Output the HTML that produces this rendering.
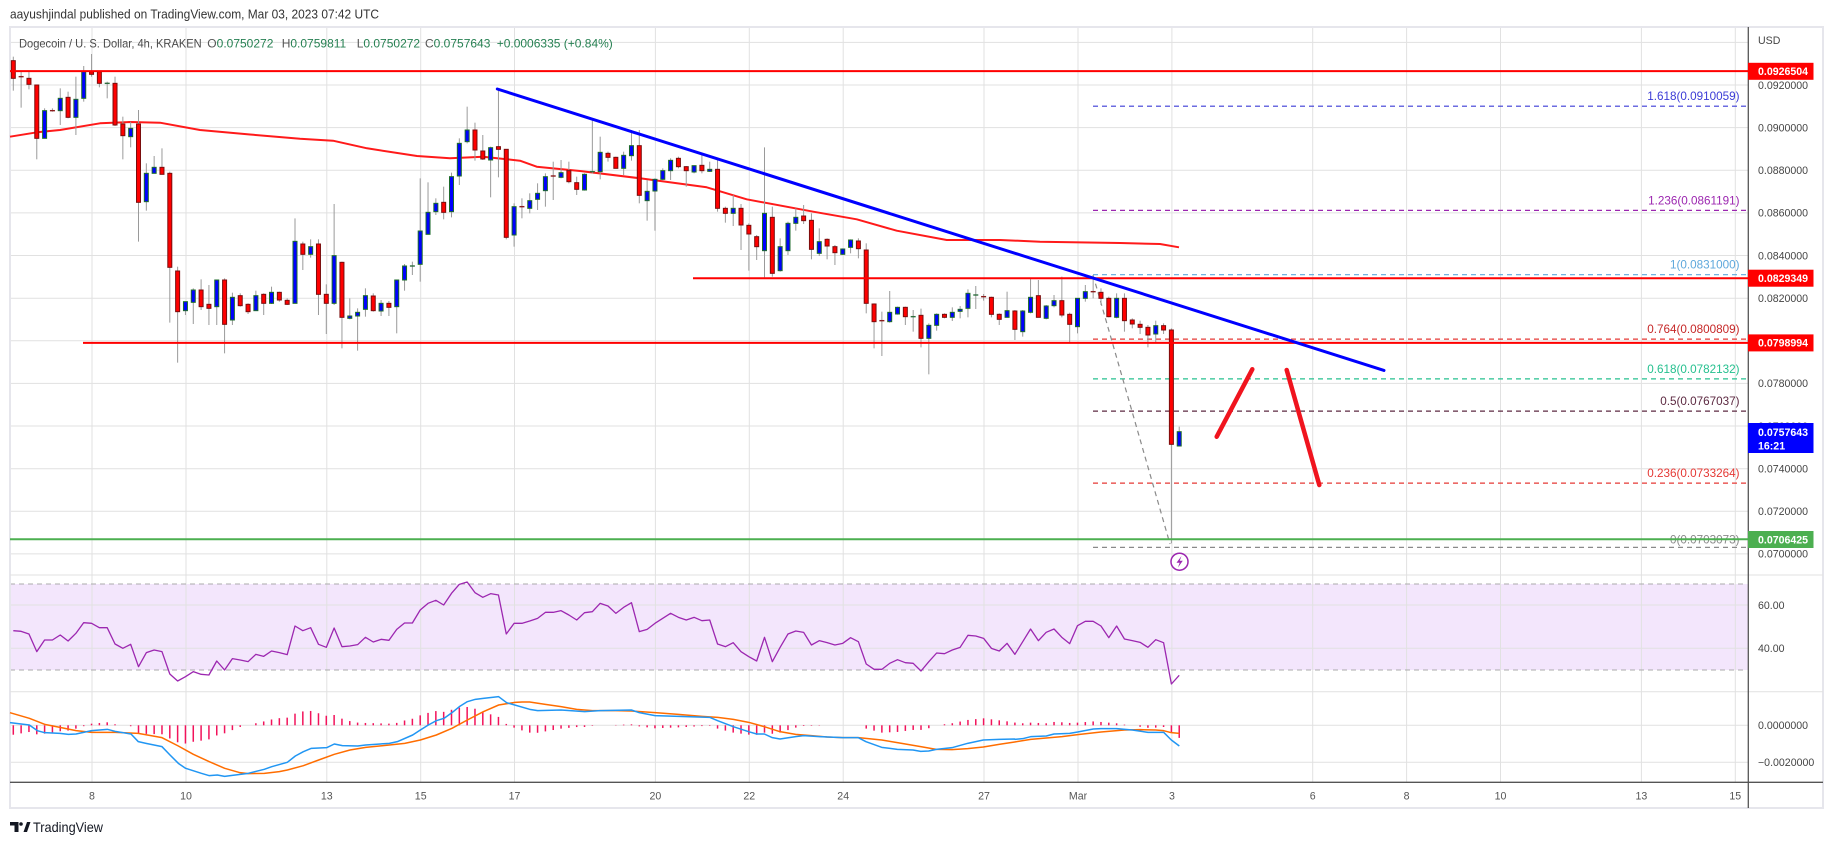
<!DOCTYPE html>
<html><head><meta charset="utf-8">
<style>
html,body{margin:0;padding:0;background:#fff;}
svg{display:block;font-family:"Liberation Sans",sans-serif;}
</style></head>
<body>
<svg id="c" width="1834" height="845" viewBox="0 0 1834 845" xmlns="http://www.w3.org/2000/svg">
<rect x="0" y="0" width="1834" height="845" fill="#fff"/>
<!-- header -->
<text x="10" y="18.5" font-size="13" fill="#333" textLength="369" lengthAdjust="spacingAndGlyphs">aayushjindal published on TradingView.com, Mar 03, 2023 07:42 UTC</text>
<!-- RSI band -->
<rect x="10" y="584" width="1738" height="86" fill="#f3e6fc"/>
<g id="grid" stroke="#e1e1e1" stroke-width="1"></g>
<line x1="10" y1="584" x2="1744" y2="584" stroke="#ababab" stroke-dasharray="5,4"/>
<line x1="10" y1="670" x2="1744" y2="670" stroke="#ababab" stroke-dasharray="5,4"/>
<!-- frame -->
<rect x="10" y="27" width="1813" height="781" fill="none" stroke="#e6e6ec" stroke-width="2"/>
<line x1="10" y1="575" x2="1823" y2="575" stroke="#e1e1e1"/>
<line x1="10" y1="691.7" x2="1823" y2="691.7" stroke="#e1e1e1"/>
<line x1="10" y1="782.3" x2="1823" y2="782.3" stroke="#555" stroke-width="1.3"/>
<line x1="1748.3" y1="27" x2="1748.3" y2="808" stroke="#555" stroke-width="1.3"/>

<!-- fib dashed lines -->
<g stroke-width="1.2" stroke-dasharray="5,4" fill="none">
<line x1="1093" y1="106.2" x2="1747" y2="106.2" stroke="#3b3bd6"/>
<line x1="1093" y1="210.4" x2="1747" y2="210.4" stroke="#9c27b0"/>
<line x1="1093" y1="274.7" x2="1747" y2="274.7" stroke="#5fa8dc"/>
<line x1="1093" y1="339.1" x2="1747" y2="339.1" stroke="#e53935"/>
<line x1="1093" y1="378.9" x2="1747" y2="378.9" stroke="#26c08f"/>
<line x1="1093" y1="411.1" x2="1747" y2="411.1" stroke="#5d2a42"/>
<line x1="1093" y1="483.1" x2="1747" y2="483.1" stroke="#e53935"/>
<line x1="1093" y1="547.4" x2="1747" y2="547.4" stroke="#8a8a8a"/>
<line x1="1093" y1="275" x2="1170" y2="544" stroke="#8a8a8a"/>
</g>
<g font-size="11.7" text-anchor="end">
<text x="1739.5" y="100.2" fill="#3b3bd6">1.618(0.0910059)</text>
<text x="1739.5" y="204.4" fill="#9c27b0">1.236(0.0861191)</text>
<text x="1739.5" y="268.7" fill="#5fa8dc">1(0.0831000)</text>
<text x="1739.5" y="333.1" fill="#c62828">0.764(0.0800809)</text>
<text x="1739.5" y="372.9" fill="#26c08f">0.618(0.0782132)</text>
<text x="1739.5" y="405.1" fill="#5d2a42">0.5(0.0767037)</text>
<text x="1739.5" y="477.1" fill="#e53935">0.236(0.0733264)</text>
<text x="1739.5" y="543.4" fill="#8a8a8a">0(0.0703073)</text>
</g>

<!-- MA -->
<polyline fill="none" stroke="#ff1a1a" stroke-width="2" stroke-linejoin="round" points="10,136.7 37,132.3 60,130 100,123.3 130,122 160,122.7 200,130 250,134.5 300,138.7 333,140.7 367,148.3 417,156 450,158.3 483,156.7 520,160.7 536.7,166.7 580,171 640,178.3 706.7,187.3 746.7,199.3 813.3,211.7 856.7,219.3 896.7,230.7 946.7,240 1000,240 1040,241.7 1120,243 1160,244 1179,247.3"/>

<g id="candles"></g>

<!-- horizontal lines -->
<line x1="10" y1="71.1" x2="1748" y2="71.1" stroke="#ff0000" stroke-width="2"/>
<line x1="83" y1="342.9" x2="1748" y2="342.9" stroke="#ff0000" stroke-width="2"/>
<line x1="693" y1="278.2" x2="1748" y2="278.2" stroke="#ff0000" stroke-width="2"/>
<line x1="10" y1="539.3" x2="1748" y2="539.3" stroke="#4caf50" stroke-width="2"/>
<!-- trendline -->
<line x1="497.3" y1="89" x2="1384" y2="370.4" stroke="#0000ff" stroke-width="3" stroke-linecap="round"/>
<!-- hand-drawn -->
<line x1="1216.7" y1="436.7" x2="1252.3" y2="369.3" stroke="#f0141e" stroke-width="4.5" stroke-linecap="round"/>
<line x1="1286.7" y1="370" x2="1319.3" y2="485" stroke="#f0141e" stroke-width="4.5" stroke-linecap="round"/>
<!-- lightning -->
<circle cx="1179.5" cy="561.7" r="8.5" fill="#fff" stroke="#9c27b0" stroke-width="1.5"/>
<path d="M1181.5 556 L1176.5 562.8 H1179.6 L1178 567.5 L1182.8 560.8 H1179.7 Z" fill="#9c27b0"/>

<g id="ind"></g>

<!-- legend -->
<text x="19" y="47.5" font-size="12" fill="#4a4a4a" textLength="182.7" lengthAdjust="spacingAndGlyphs">Dogecoin / U. S. Dollar, 4h, KRAKEN</text>
<g font-size="12">
<text x="207.3" y="47.5"><tspan fill="#555">O</tspan><tspan fill="#268052">0.0750272</tspan></text>
<text x="281.7" y="47.5"><tspan fill="#555">H</tspan><tspan fill="#268052">0.0759811</tspan></text>
<text x="356.7" y="47.5"><tspan fill="#555">L</tspan><tspan fill="#268052">0.0750272</tspan></text>
<text x="425" y="47.5"><tspan fill="#555">C</tspan><tspan fill="#268052">0.0757643</tspan></text>
<text x="496.7" y="47.5" fill="#268052">+0.0006335 (+0.84%)</text>
</g>

<!-- price axis -->
<g font-size="10.6" fill="#444">
<text x="1758" y="44">USD</text>
<text x="1758" y="88.8">0.0920000</text>
<text x="1758" y="131.4">0.0900000</text>
<text x="1758" y="174.1">0.0880000</text>
<text x="1758" y="216.7">0.0860000</text>
<text x="1758" y="259.3">0.0840000</text>
<text x="1758" y="302">0.0820000</text>
<text x="1758" y="344.6">0.0800000</text>
<text x="1758" y="387.2">0.0780000</text>
<text x="1758" y="429.8">0.0760000</text>
<text x="1758" y="472.5">0.0740000</text>
<text x="1758" y="515.1">0.0720000</text>
<text x="1758" y="557.7">0.0700000</text>
<text x="1758" y="608.8">60.00</text>
<text x="1758" y="652.1">40.00</text>
<text x="1758" y="729.1">0.0000000</text>
<text x="1758" y="766.1">−0.0020000</text>
</g>
<rect x="1748" y="62.8" width="65.5" height="17" fill="#ff0000"/>
<rect x="1748" y="269.7" width="65.5" height="17" fill="#ff0000"/>
<rect x="1748" y="334.4" width="65.5" height="17" fill="#ff0000"/>
<rect x="1748" y="423" width="65.5" height="30" fill="#0000ff"/>
<rect x="1748" y="531" width="65.5" height="17" fill="#4caf50"/>
<g font-size="10.6" fill="#fff" font-weight="bold">
<text x="1758" y="75.1">0.0926504</text>
<text x="1758" y="282">0.0829349</text>
<text x="1758" y="346.7">0.0798994</text>
<text x="1758" y="435.8">0.0757643</text>
<text x="1758" y="449.6">16:21</text>
<text x="1758" y="543.3">0.0706425</text>
</g>

<!-- time axis -->
<g font-size="10.6" fill="#555" text-anchor="middle">
<text x="92" y="799.5">8</text>
<text x="186" y="799.5">10</text>
<text x="326.8" y="799.5">13</text>
<text x="420.7" y="799.5">15</text>
<text x="514.5" y="799.5">17</text>
<text x="655.4" y="799.5">20</text>
<text x="749.3" y="799.5">22</text>
<text x="843.2" y="799.5">24</text>
<text x="984" y="799.5">27</text>
<text x="1078" y="799.5">Mar</text>
<text x="1171.9" y="799.5">3</text>
<text x="1312.7" y="799.5">6</text>
<text x="1406.6" y="799.5">8</text>
<text x="1500.5" y="799.5">10</text>
<text x="1641.4" y="799.5">13</text>
<text x="1735.3" y="799.5">15</text>
</g>

<!-- logo -->
<path d="M10 822 H18.5 V832 H14.5 V825.5 H10 Z" fill="#131722"/>
<circle cx="21" cy="824" r="1.8" fill="#131722"/>
<path d="M23.5 832 L27 822 H30.5 L27 832 Z" fill="#131722"/>
<text x="33" y="832" font-size="14" fill="#131722" textLength="70" lengthAdjust="spacingAndGlyphs">TradingView</text>
</svg>
<script>
(function(){
const NS="http://www.w3.org/2000/svg";
function el(tag,attrs,parent){const e=document.createElementNS(NS,tag);for(const k in attrs)e.setAttribute(k,attrs[k]);parent.appendChild(e);return e;}
const X=i=>13.3+i*7.825;
// grid
const grid=document.getElementById('grid');
const hy=[42.4,85,127.6,170.3,212.9,255.5,298.2,340.8,383.4,426,468.7,511.3,553.9,605,648.3,725.3,762.3];
hy.forEach(y=>el('line',{x1:10,y1:y,x2:1748,y2:y},grid));
const vx=[92,186,326.8,420.7,514.5,655.4,749.3,843.2,984,1078,1171.9,1312.7,1406.6,1500.5,1641.4,1735.3];
vx.forEach(x=>el('line',{x1:x,y1:27,x2:x,y2:782},grid));
// candles
const cg=document.getElementById('candles');
const groups=[
[40,0,"r 62 115 50 152|fr 110 110 95 203|r 115 133 95 148|r 135 295 135 358|b 212 295 205 295|fr 212 212 205 215|b 175 212 145 255|r 172 232 155 235|b 178 232 110 285|b 95 175 78 185|r 95 103 42 110|r 95 130 95 142|fg 130 130 125 175|r 130 255 110 258|r 252 287 230 358|b 265 290 245 322|r 252 487 210 605|b 400 485 370 512|b 382 400 348 400|r 382 403 325 403|r 400 682 395 848|r 693 815 680 968|b 785 812 785 825|b 750 787 745 852|r 750 800 718 810|r 793 805 735 855|b 720 800 720 855|r 720 853 715 940|b 772 840 758 855|r 767 797 760 800|r 793 815 790 822|b 767 812 752 812|r 763 790 760 825|b 757 790 740 792|r 757 780 755 785|r 781 793 775 795|b 604 790 535 790|r 612 643 605 690|b 620 643 598 653|r 612 763 598 825|r 763 790 733 882|b 647 790 492 795|r 667 832 665 925|b 828 835 775 838|b 817 828 805 932|b 767 808 745 830|r 768 812 760 815|b 790 813 780 828|r 790 802 783 828|b 720 800 720 880|b 678 720 672 752|fg 678 678 665 705|b 573 673 415 725|b 517 583 427 583|b 490 515 475 525|r 487 517 440 538|b 410 515 398 532|b 310 408 295 435|b 270 305 200 310|r 270 330 248 362|r 333 357 285 360|b 323 360 320 472|r 320 328 145 412|r 328 592 328 598|b 500 585 490 620"],
[60,65,"fr 440 440 415 475|b 422 445 400 460|b 400 418 370 450|b 350 392 340 440|fr 348 348 305 420|b 338 352 300 355|r 332 365 305 370|r 368 388 350 405|b 343 390 340 392|fg 335 335 175 340|b 277 335 230 358|r 280 292 275 305|r 292 325 290 325|b 286 325 275 345|b 257 287 210 302|r 257 406 210 430|b 394 422 360 482|b 358 393 355 512|b 332 358 325 362|b 301 332 295 360|r 295 320 290 325|r 320 332 318 380|b 317 336 316 340|r 316 332 278 340|b 328 334 305 336|r 328 445 295 455|r 445 460 440 488|b 445 460 405 498|r 445 495 432 570|r 496 522 490 632|r 530 560 525 600|b 460 572 262 652|r 472 640 440 650|b 560 632 535 635|b 490 572 485 585|b 472 490 445 512|r 468 482 435 492|r 481 568 460 598|b 545 580 505 588|r 538 558 535 598|r 560 578 555 615"],
[230,106,"b 57 73 55 75|b 30 52 28 70|r 33 56 25 85|r 60 220 40 250|r 222 275 220 355|fr 272 272 245 378|b 247 275 183 278|b 232 252 230 254|r 232 260 230 285|fg 260 260 240 305|r 256 325 236 352|b 286 325 280 433|b 253 286 250 302|r 253 262 250 265|b 247 262 232 273|b 238 244 228 265|b 190 235 178 262|fg 195 195 168 237|fr 200 200 192 212|r 202 253 200 262|r 253 268 250 285|b 242 262 185 262|r 243 298 240 330|b 243 305 240 320|b 202 247 145 250|r 197 262 150 262|b 228 265 225 268|b 212 227 195 232|r 212 255 140 262|r 253 283 248 338|b 205 290 205 310|b 185 205 165 215|fr 185 185 135 205|r 187 205 175 225|r 205 260 200 262|b 205 262 190 265|r 205 272 190 305|r 270 282 265 295|r 283 292 272 312|r 292 315 285 352|b 287 312 272 338|r 287 300 280 312|r 300 643 295 940|b 605 648 590 648"]
];
groups.forEach(([off,start,s])=>{
  s.split('|').forEach((e,k)=>{
    const p=e.trim().split(/\s+/);const t=p[0];
    const v=p.slice(1).map(n=>off+parseFloat(n)/3);
    const x=X(start+k);
    el('line',{x1:x,y1:v[2],x2:x,y2:v[3],stroke:'#9a9a9a','stroke-width':1},cg);
    if(t[0]==='f'){
      el('rect',{x:x-2.5,y:v[0]-0.7,width:5,height:1.4,fill:t==='fr'?'#8b1c1c':'#2f6f3f'},cg);
    }else{
      el('rect',{x:x-2,y:v[0],width:4,height:Math.max(v[1]-v[0],1),fill:t==='r'?'#ff0000':'#0000ff',stroke:t==='r'?'#7a0d0d':'#1d6b2a','stroke-width':1},cg);
    }
  });
});
// indicators
const ind=document.getElementById('ind');
const rsi=[212,214,222,275,240,240,225,243,220,188,190,203,203,252,265,253,320,278,270,275,342,363,350,335,343,345,303,330,296,300,305,283,289,273,278,284,198,212,203,253,262,204,260,258,254,232,246,238,241,208,189,189,150,130,121,135,100,73,66,98,112,101,105,222,190,
190,183,175,157,157,152,165,180,158,155,130,138,160,142,128,215,208,190,175,160,172,180,172,182,180,252,260,248,275,290,303,232,305,262,222,213,217,255,242,248,255,250,233,245,312,328,328,310,299,308,310,333,305,279,281,270,262,226,228,235,265,273,250,283,
245,207,242,217,207,232,251,197,184,184,198,233,198,237,242,247,262,239,248,372,346];
el('polyline',{points:rsi.map((v,i)=>X(i).toFixed(2)+','+(560+v/3).toFixed(2)).join(' '),fill:'none',stroke:'#9c27b0','stroke-width':1.3,'stroke-linejoin':'round'},ind);
function conv(groups){const out=[];groups.forEach(([ox,pts])=>pts.forEach(([zx,zy])=>out.push([ox+zx/3,560+zy/3])));return out;}
const blue=conv([[0,[[30,488],[88,495],[112,512],[134,518],[180,520],[205,523],[228,522],[275,512],[322,508],[345,514],[393,522],[415,545],[438,550],[486,560],[510,585],[535,610],[557,625],[604,640],[628,647],[652,645],[674,649],[697,646],[745,640],[793,628],[815,620],[862,607],[886,588],[910,575],[934,565],[980,563],[1003,552],[1027,557],[1073,558],[1097,555],[1168,550],[1192,545],[1238,525],[1261,510],[1285,495],[1309,482],[1332,475],[1356,458],[1378,440],[1402,425],[1426,418],[1450,415],[1496,410],[1520,428]]],
[500,[[89,448],[113,452],[183,450],[254,455],[300,452],[394,450],[418,458],[465,467],[559,470],[629,472],[653,482],[700,500],[746,515],[770,522],[793,522],[817,533],[840,537],[887,530],[911,527],[958,530],[1028,533],[1075,533],[1098,545],[1145,562],[1192,568],[1239,570],[1262,574],[1286,573],[1309,568],[1356,563],[1403,550],[1450,540],[1497,538],[1544,537]]],
[1000,[[45,538],[68,536],[92,530],[139,528],[162,522],[209,520],[233,516],[280,507],[303,506],[350,506],[397,510],[444,517],[491,517],[514,540],[538,558]]]]);
const orange=conv([[0,[[30,458],[88,475],[134,493],[180,502],[228,512],[275,517],[345,517],[415,520],[486,533],[535,558],[580,583],[628,605],[674,625],[720,638],[745,641],[793,640],[838,635],[862,630],[910,617],[956,600],[1003,583],[1050,570],[1097,562],[1168,555],[1214,550],[1261,540],[1309,525],[1356,505],[1402,480],[1450,455],[1496,435],[1545,427]]],
[500,[[66,426],[89,426],[136,433],[183,440],[230,448],[277,452],[347,452],[394,453],[465,458],[535,463],[606,469],[653,472],[700,478],[746,487],[793,500],[840,515],[887,523],[934,527],[981,531],[1028,533],[1075,533],[1145,540],[1192,548],[1262,560],[1309,568],[1356,569],[1403,566],[1450,561],[1497,553],[1544,546]]],
[1000,[[92,538],[186,530],[233,524],[303,516],[373,510],[420,509],[467,510],[491,512],[514,518],[538,520]]]]);
function interp(pts,x){if(x<=pts[0][0])return pts[0][1];for(let k=1;k<pts.length;k++){if(x<=pts[k][0]){const a=pts[k-1],b=pts[k];return a[1]+(b[1]-a[1])*(x-a[0])/(b[0]-a[0]);}}return pts[pts.length-1][1];}
const Z=725.3;
for(let i=0;i<150;i++){const x=X(i);const h=interp(blue,x)-interp(orange,x);if(Math.abs(h)<0.3)continue;
 el('rect',{x:x-0.75,y:Math.min(Z,Z+h),width:1.5,height:Math.abs(h),fill:'#f2135b'},ind);}
el('polyline',{points:orange.map(p=>p[0].toFixed(2)+','+p[1].toFixed(2)).join(' '),fill:'none',stroke:'#ff6d00','stroke-width':1.5,'stroke-linejoin':'round'},ind);
el('polyline',{points:blue.map(p=>p[0].toFixed(2)+','+p[1].toFixed(2)).join(' '),fill:'none',stroke:'#2196f3','stroke-width':1.5,'stroke-linejoin':'round'},ind);
})();
</script>
</body></html>
